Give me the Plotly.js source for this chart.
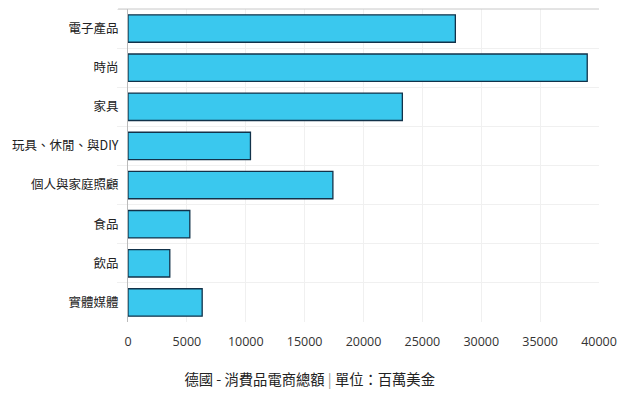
<!DOCTYPE html>
<html>
<head>
<meta charset="utf-8">
<script src="https://cdn.plot.ly/plotly-3.0.1.min.js"></script>
<style>
  body { margin: 0; background: #fff; }
  #chart { width: 644px; height: 402px; }
</style>
</head>
<body>
<div id="chart"></div>
<script>
var categories = ['電子產品', '時尚', '家具', '玩具、休閒、與DIY', '個人與家庭照顧', '食品', '飲品', '實體媒體'];
var revenue = [27800, 39000, 23300, 10400, 17400, 5250, 3550, 6300];
var xTicks = [0, 5000, 10000, 15000, 20000, 25000, 30000, 35000, 40000];

var font = '"Noto Sans CJK TC", "Noto Sans", sans-serif';

var trace = {
    type: 'bar',
    orientation: 'h',
    y: categories,
    x: revenue,
    marker: {
        color: '#3ac8ee',
        line: { color: '#12324a', width: 1.3 }
    },
    hoverinfo: 'x+y'
};

var layout = {
    width: 644,
    height: 402,
    margin: { l: 128, r: 45, t: 9, b: 80 },
    paper_bgcolor: '#fff',
    plot_bgcolor: '#fff',
    showlegend: false,
    bargap: 0.3,
    font: { family: font, color: '#333', size: 12 },
    title: {
        text: '德國 - 消費品電商總額<span style="color:#a09a8a"> | </span>單位：百萬美金',
        font: { family: font, size: 14.3, color: '#222' },
        xref: 'container', yref: 'container',
        x: 0.481, y: 0.055, xanchor: 'center', yanchor: 'middle'
    },
    xaxis: {
        range: [0, 40000],
        tickvals: xTicks,
        ticktext: xTicks.map(String),
        showgrid: true,
        gridcolor: '#f0f0f0',
        zeroline: false,
        showline: false,
        ticks: '',
        ticklabelstandoff: 10,
        tickfont: { family: '"Open Sans", sans-serif', size: 12.5, color: '#333' },
        fixedrange: true
    },
    yaxis: {
        type: 'category',
        autorange: 'reversed',
        tickson: 'boundaries',
        ticks: 'outside',
        ticklen: 10,
        tickcolor: '#f0f0f0',
        ticklabelstandoff: 6,
        showgrid: true,
        gridcolor: '#f0f0f0',
        showline: true,
        linecolor: '#bbb',
        linewidth: 1,
        zeroline: false,
        tickfont: { family: font, size: 12.5, color: '#222' },
        fixedrange: true
    },
    shapes: [{
        type: 'line', xref: 'paper', yref: 'paper',
        x0: -0.021, x1: 1, y0: 1, y1: 1,
        line: { color: '#c8c8c8', width: 1 }
    }]
};

Plotly.newPlot('chart', [trace], layout, { displayModeBar: false, staticPlot: true });
</script>
</body>
</html>
